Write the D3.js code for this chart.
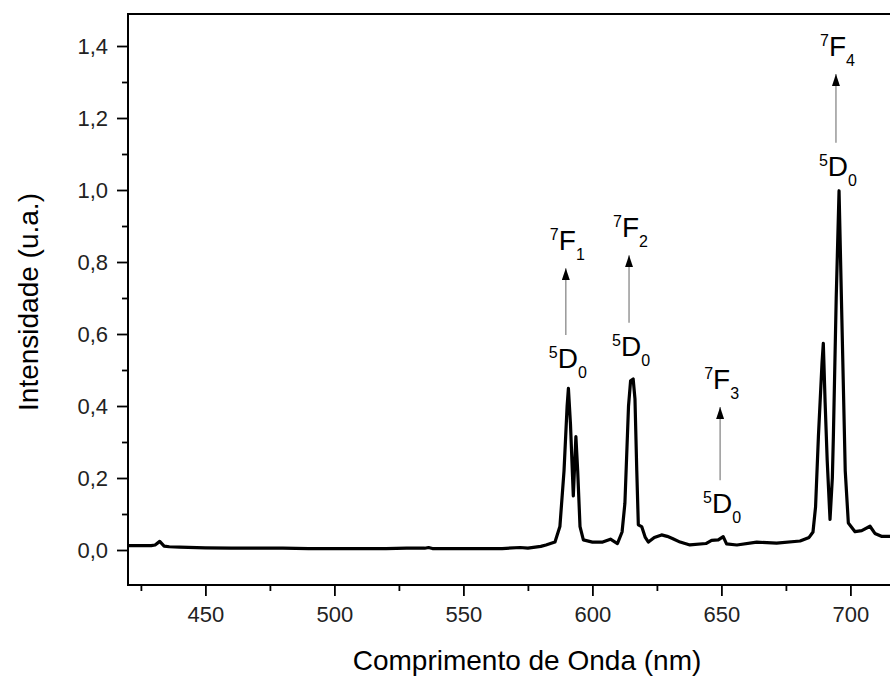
<!DOCTYPE html>
<html>
<head>
<meta charset="utf-8">
<script src="https://cdn.jsdelivr.net/npm/d3@7"></script>
<style>
  body { margin: 0; background: #fff; }
  svg { display: block; font-family: "Liberation Sans", Arial, sans-serif; }
  .tick text { fill: #222; }
</style>
</head>
<body>
<div class="graph"></div>
<script>
// spectrum (nm, a.u.)
var wavelength = [420, 425, 429, 430.5, 432.3, 434, 436, 440, 450, 460, 470, 480, 490, 500, 510, 520, 528, 535, 536.5, 538, 550, 560, 565, 572, 575, 580, 582,
  585.5, 587.4, 589, 590.2, 590.7, 591.5, 592.6, 593.6, 594.3, 595.2, 596.5, 600, 604, 607, 609.7, 611.5, 612.6, 614, 614.8, 615.8, 616.5, 617.2, 617.8, 619.1, 620.5, 621.7,
  624, 626.8, 629, 631, 634, 637.8, 644, 646.2, 648.8, 650.7, 652, 656, 663.7, 671.4, 680.5, 684, 685.5, 686.5, 687.6, 689, 689.5, 690.2, 691, 692.1, 693, 693.4, 694.5,
  695.6, 696.7, 698, 699.2, 701.8, 704.4, 707.6, 709.5, 712, 716, 720];
var intensity = [0.012, 0.012, 0.012, 0.014, 0.024, 0.011, 0.009, 0.008, 0.006, 0.005, 0.005, 0.005, 0.004, 0.004, 0.004, 0.004, 0.005, 0.005, 0.007, 0.004, 0.004, 0.004, 0.004, 0.007, 0.005, 0.010, 0.014,
  0.022, 0.065, 0.22, 0.40, 0.449, 0.35, 0.15, 0.315, 0.22, 0.065, 0.028, 0.022, 0.022, 0.030, 0.018, 0.05, 0.13, 0.40, 0.47, 0.475, 0.42, 0.22, 0.07, 0.065, 0.035, 0.022,
  0.035, 0.042, 0.038, 0.032, 0.022, 0.014, 0.018, 0.027, 0.028, 0.037, 0.017, 0.014, 0.022, 0.019, 0.025, 0.035, 0.05, 0.12, 0.315, 0.52, 0.574, 0.41, 0.25, 0.085, 0.2, 0.315, 0.7,
  0.998, 0.64, 0.22, 0.075, 0.051, 0.054, 0.066, 0.046, 0.038, 0.038, 0.038];

// transitions 5D0 -> 7FJ
var transJ = ["1", "2", "3", "4"];
var transWave = [589.7, 614.2, 649.5, 694.4];
var arrowFrom = [0.597, 0.631, 0.194, 1.131];
var arrowTo = [0.783, 0.819, 0.397, 1.322];

var xMajor = [450, 500, 550, 600, 650, 700];
var xMinor = [425, 475, 525, 575, 625, 675];
var yMajor = [0.0, 0.2, 0.4, 0.6, 0.8, 1.0, 1.2, 1.4];
var yMinor = [0.1, 0.3, 0.5, 0.7, 0.9, 1.1, 1.3];

var W = 890, H = 678;
var m_left = 128, m_top = 14, m_bottom = 585;

var x = d3.scaleLinear().domain([420, 720]).range([m_left, m_left + 300 * 2.58]);
var y = d3.scaleLinear().domain([-0.0972, 1.4889]).range([m_bottom, m_top]);

var svg = d3.select(".graph").append("svg")
  .attr("width", W)
  .attr("height", H);

var defs = svg.append("defs");
defs.append("marker")
  .attr("id", "head")
  .attr("viewBox", "0 0 12 8")
  .attr("refX", 12).attr("refY", 4)
  .attr("markerWidth", 12).attr("markerHeight", 8)
  .attr("markerUnits", "userSpaceOnUse")
  .attr("orient", "auto")
  .append("path")
  .attr("d", "M0,0L12,4L0,8Z")
  .attr("fill", "#000");

var fmt = function(d) { return d3.format(".1f")(d).replace(".", ","); };

// axes
var yAx = svg.append("g").attr("transform", "translate(" + m_left + ",0)")
  .call(d3.axisLeft(y).tickValues(yMajor).tickSize(11).tickPadding(9).tickFormat(fmt));
var yAxMin = svg.append("g").attr("transform", "translate(" + m_left + ",0)")
  .call(d3.axisLeft(y).tickValues(yMinor).tickSize(6).tickFormat(""));
var xAx = svg.append("g").attr("transform", "translate(0," + m_bottom + ")")
  .call(d3.axisBottom(x).tickValues(xMajor).tickSize(11).tickPadding(10).tickFormat(d3.format("d")));
var xAxMin = svg.append("g").attr("transform", "translate(0," + m_bottom + ")")
  .call(d3.axisBottom(x).tickValues(xMinor).tickSize(6).tickFormat(""));

[yAx, yAxMin, xAx, xAxMin].forEach(function(a) {
  a.select(".domain").remove();
  a.selectAll(".tick line").attr("stroke", "#000").attr("stroke-width", 1.8);
  a.selectAll(".tick text").attr("font-size", 22).attr("font-family", "Liberation Sans, Arial, sans-serif");
});

// frame
svg.append("line").attr("x1", m_left).attr("x2", W).attr("y1", m_top).attr("y2", m_top)
  .attr("stroke", "#000").attr("stroke-width", 2);
svg.append("line").attr("x1", m_left).attr("x2", W).attr("y1", m_bottom).attr("y2", m_bottom)
  .attr("stroke", "#000").attr("stroke-width", 2);
svg.append("line").attr("x1", m_left).attr("x2", m_left).attr("y1", m_top - 1).attr("y2", m_bottom + 1)
  .attr("stroke", "#000").attr("stroke-width", 2);

// spectrum
var pts = wavelength.map(function(w, i) { return [w, intensity[i]]; });
var valueline = d3.line()
  .x(function(d) { return x(d[0]); })
  .y(function(d) { return y(d[1]); });

svg.append("clipPath").attr("id", "plot")
  .append("rect").attr("x", m_left).attr("y", m_top).attr("width", W - m_left).attr("height", m_bottom - m_top);

svg.append("path")
  .datum(pts)
  .attr("clip-path", "url(#plot)")
  .attr("fill", "none")
  .attr("stroke", "#000")
  .attr("stroke-width", 3.2)
  .attr("stroke-linejoin", "round")
  .attr("d", valueline);

// level label: superscript, letter, subscript
function level(cx, by, sup, main, sub) {
  var t = svg.append("text")
    .attr("x", cx).attr("y", by)
    .attr("text-anchor", "middle")
    .attr("fill", "#000");
  t.append("tspan").attr("font-size", 16).attr("dy", -10).text(sup);
  t.append("tspan").attr("font-size", 28).attr("dy", 10).text(main);
  t.append("tspan").attr("font-size", 16).attr("dy", 10).text(sub);
}

transJ.forEach(function(j, i) {
  var ax = x(transWave[i]);
  svg.append("line")
    .attr("x1", ax).attr("x2", ax)
    .attr("y1", y(arrowFrom[i])).attr("y2", y(arrowTo[i]))
    .attr("stroke", "#888").attr("stroke-width", 1.3)
    .attr("marker-end", "url(#head)");
  level(ax + 1.5, y(arrowTo[i]) - 18, "7", "F", j);
  level(ax + 2, y(arrowFrom[i]) + 33, "5", "D", "0");
});

// axis titles
svg.append("text")
  .attr("x", 527).attr("y", 670)
  .attr("text-anchor", "middle")
  .attr("font-size", 28)
  .attr("fill", "#000")
  .text("Comprimento de Onda (nm)");

svg.append("text")
  .attr("transform", "translate(38,302) rotate(-90)")
  .attr("text-anchor", "middle")
  .attr("font-size", 28)
  .attr("fill", "#000")
  .text("Intensidade (u.a.)");
</script>
</body>
</html>
